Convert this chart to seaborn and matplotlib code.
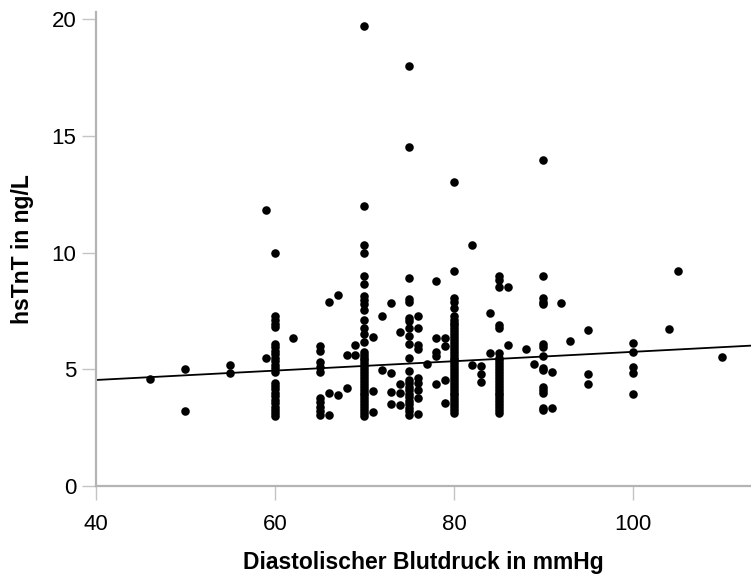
import matplotlib
matplotlib.use("Agg")
import matplotlib.pyplot as plt
import seaborn as sns
import pandas as pd

# hsTnT readings (ng/L) at the common diastolic pressures (mmHg)
tnt_60 = [3.0, 3.12, 3.25, 3.4, 3.55, 3.7, 3.85, 4.0, 4.15, 4.3, 4.42,
          4.9, 5.05, 5.2, 5.35, 5.5, 5.65, 5.8, 5.95, 6.08,
          6.8, 6.95, 7.1, 7.3, 10.0]
tnt_65 = [3.05, 3.2, 3.4, 3.6, 3.75, 4.88, 5.1, 5.3, 5.8, 6.0]
tnt_70 = [3.0, 3.12, 3.25, 3.38, 3.5, 3.62, 3.75, 3.88, 4.0, 4.12, 4.25,
          4.38, 4.5, 4.62, 4.75, 4.88, 5.0, 5.12, 5.25, 5.38, 5.5, 5.62,
          5.76, 6.17, 6.5, 6.78, 7.12, 7.52, 7.78, 7.97, 8.15, 8.64, 9.0,
          10.0, 10.3, 12.0, 19.7]
tnt_75 = [3.05, 3.2, 3.35, 3.5, 3.65, 3.8, 3.95, 4.1, 4.25, 4.4, 4.54,
          4.93, 5.48, 6.09, 6.44, 6.76, 7.06, 7.21, 7.9, 8.0, 8.9, 14.5, 18.0]
tnt_80 = [3.12, 3.25, 3.38, 3.5, 3.62, 3.75, 3.88, 4.0, 4.12, 4.25, 4.38,
          4.5, 4.62, 4.75, 4.88, 5.0, 5.12, 5.25, 5.38, 5.5, 5.62, 5.75,
          5.88, 6.0, 6.12, 6.25, 6.38, 6.5, 6.62, 6.75, 6.88, 7.0, 7.12,
          7.26, 7.62, 7.9, 8.04, 9.22, 13.0]
tnt_85 = [3.12, 3.25, 3.38, 3.5, 3.62, 3.75, 3.88, 4.0, 4.12, 4.25, 4.38,
          4.5, 4.62, 4.75, 4.88, 5.0, 5.12, 5.25, 5.38, 5.5, 5.69,
          6.76, 6.9, 8.54, 8.83, 9.0]
tnt_90 = [3.26, 3.33, 3.97, 4.11, 4.26, 4.96, 5.04, 5.58, 5.97, 6.07,
          7.78, 7.9, 8.04, 9.0, 13.95]
tnt_100 = [3.94, 4.86, 5.11, 5.76, 6.14]

# remaining single observations
other_dbp = [46, 50, 50, 55, 55, 59, 59, 62, 66, 66, 66, 67, 67, 68, 68,
             69, 69, 71, 71, 71, 72, 72, 73, 73, 73, 73, 74, 74, 74, 74,
             76, 76, 76, 76, 76, 76, 76, 76, 76, 77, 78, 78, 78, 78, 78,
             79, 79, 79, 79, 82, 82, 83, 83, 83, 84, 84, 86, 86, 88, 89,
             91, 91, 92, 93, 95, 95, 95, 104, 105, 110]
other_tnt = [4.57, 5.0, 3.23, 5.17, 4.86, 11.8, 5.5, 6.35, 7.87, 4.0, 3.02,
             8.19, 3.88, 5.61, 4.2, 6.05, 5.6, 6.37, 4.08, 3.15, 7.26, 4.95,
             7.83, 4.86, 4.01, 3.51, 6.58, 4.35, 4.0, 3.45,
             7.26, 6.76, 6.05, 5.88, 4.63, 4.42, 4.11, 3.76, 3.1, 5.23,
             8.79, 6.33, 5.72, 5.56, 4.38, 6.35, 6.01, 4.52, 3.54,
             10.3, 5.18, 5.16, 4.8, 4.47, 7.4, 5.71, 8.51, 6.03, 5.87, 5.21,
             4.87, 3.33, 7.83, 6.19, 6.68, 4.79, 4.36, 6.73, 9.19, 5.51]

# linear fit line: hsTnT = intercept + slope * DBP
fit_intercept = 3.736
fit_slope = 0.0201

columns = {60: tnt_60, 65: tnt_65, 70: tnt_70, 75: tnt_75,
           80: tnt_80, 85: tnt_85, 90: tnt_90, 100: tnt_100}
xs, ys = [], []
for dbp, vals in columns.items():
    xs += [dbp] * len(vals)
    ys += vals
xs += other_dbp
ys += other_tnt
df = pd.DataFrame({"dbp": xs, "tnt": ys})

sns.set_style("ticks")
plt.rcParams["font.family"] = ["Liberation Sans", "DejaVu Sans"]

fig = plt.figure(figsize=(7.51, 5.77), dpi=100)
ax = fig.add_axes([96 / 751, (577 - 486) / 577, (751 - 96) / 751, (486 - 12) / 577])

sns.scatterplot(data=df, x="dbp", y="tnt", ax=ax, color="black",
                s=38, linewidth=0, zorder=3)

xlim = (40, 113.2)
ax.plot(list(xlim), [fit_intercept + fit_slope * v for v in xlim],
        color="black", linewidth=1.3, zorder=2)

ax.set_xlim(*xlim)
ax.set_ylim(0, 20.3)
ax.set_xticks([40, 60, 80, 100])
ax.set_yticks([0, 5, 10, 15, 20])

for side in ("top", "right"):
    ax.spines[side].set_visible(False)
for side in ("left", "bottom"):
    ax.spines[side].set_color("#b4b4b4")
    ax.spines[side].set_linewidth(1.6)
ax.tick_params(axis="both", direction="out", length=10, width=1.0,
               color="#c4c4c4", labelsize=16, labelcolor="black")
ax.tick_params(axis="x", pad=10)
ax.tick_params(axis="y", pad=4)

ax.set_xlabel("Diastolischer Blutdruck in mmHg", fontsize=16.5,
              fontweight="bold", labelpad=12, color="black")
ax.set_ylabel("hsTnT in ng/L", fontsize=16.5, fontweight="bold",
              labelpad=13, color="black")

fig.savefig("out.png", dpi=100)
